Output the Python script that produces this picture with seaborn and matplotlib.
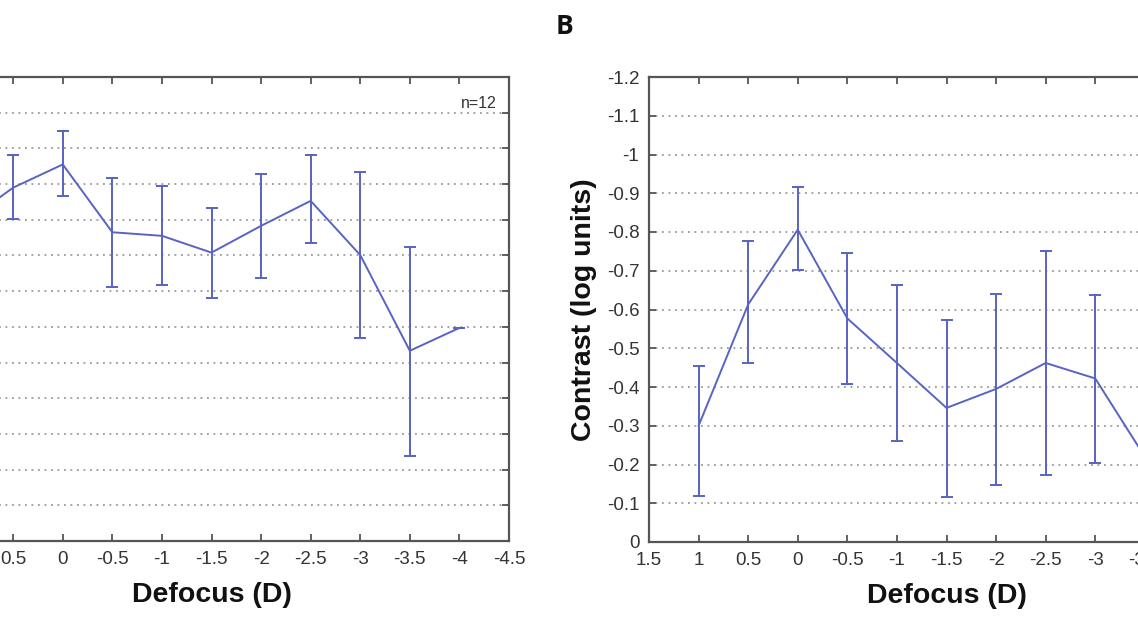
import matplotlib
matplotlib.use("Agg")
import matplotlib.pyplot as plt
import seaborn as sns
import numpy as np
import pandas as pd

# ---------------- data ----------------
defocus = [1, 0.5, 0, -0.5, -1, -1.5, -2, -2.5, -3, -3.5, -4]

# Panel A (left, partially visible)
a_mean = [-0.89, -0.99, -1.055, -0.865, -0.855, -0.808, -0.883, -0.953, -0.801, -0.533, -0.597]
a_top = [-0.98, -1.081, -1.148, -1.017, -0.994, -0.932, -1.027, -1.081, -1.033, -0.824, -0.597]
a_bot = [-0.80, -0.902, -0.967, -0.712, -0.718, -0.682, -0.736, -0.834, -0.568, -0.238, -0.597]

# Panel B (right)
b_mean = [-0.30, -0.613, -0.806, -0.577, -0.462, -0.346, -0.395, -0.462, -0.422, -0.22, -0.25]
b_top = [-0.454, -0.778, -0.916, -0.746, -0.662, -0.574, -0.641, -0.750, -0.638, -0.40, -0.40]
b_bot = [-0.119, -0.462, -0.701, -0.409, -0.260, -0.117, -0.148, -0.173, -0.205, -0.05, -0.10]

x_ticks = [1.5, 1, 0.5, 0, -0.5, -1, -1.5, -2, -2.5, -3, -3.5, -4, -4.5]
x_ticklabels = ["1.5", "1", "0.5", "0", "-0.5", "-1", "-1.5", "-2", "-2.5", "-3", "-3.5", "-4", "-4.5"]
b_yticks = [0, -0.1, -0.2, -0.3, -0.4, -0.5, -0.6, -0.7, -0.8, -0.9, -1.0, -1.1, -1.2]
b_yticklabels = ["0", "-0.1", "-0.2", "-0.3", "-0.4", "-0.5", "-0.6", "-0.7", "-0.8", "-0.9", "-1", "-1.1", "-1.2"]
# panel A's y tick labels lie outside the visible crop
a_yticks = [0, -0.1, -0.2, -0.3, -0.4, -0.5, -0.6, -0.7, -0.8, -0.9, -1.0, -1.1, -1.2, -1.3]
a_yticklabels = [""] * len(a_yticks)

x_label = "Defocus (D)"
y_label = "Contrast (log units)"
panel_label = "B"
n_text = "n=12"

# ---------------- style ----------------
sns.set_style("white")
plt.rcParams["font.family"] = ["Liberation Sans", "DejaVu Sans"]

LINE = "#5863c3"
SPINE = "#555555"
TXT = "#333333"

fig = plt.figure(figsize=(11.38, 6.40), dpi=100)
axA = fig.add_axes([-86 / 1138, 99 / 640, 595 / 1138, 464 / 640])
axB = fig.add_axes([649 / 1138, 98 / 640, 595 / 1138, 465 / 640])


def draw(ax, mean, top, bot, ylim, yticks, yticklabels):
    df = pd.DataFrame({"x": defocus, "y": mean})
    sns.lineplot(data=df, x="x", y="y", ax=ax, color=LINE, lw=1.4,
                 estimator=None, sort=False, legend=False)
    m = np.array(mean)
    yerr = np.vstack([np.abs(np.array(top) - m), np.abs(np.array(bot) - m)])
    ax.errorbar(defocus, mean, yerr=yerr, fmt="none", ecolor=LINE,
                elinewidth=1.4, capsize=4, capthick=1.4)
    ax.set_xlim(1.5, -4.5)
    ax.set_ylim(*ylim)
    ax.set_xticks(x_ticks)
    ax.set_xticklabels(x_ticklabels)
    ax.set_yticks(yticks)
    ax.set_yticklabels(yticklabels)
    ax.yaxis.grid(True, linestyle=(0, (1, 2.6)), color="#999999", lw=1.3)
    ax.xaxis.grid(False)
    ax.tick_params(axis="both", direction="in", length=5, width=1.3,
                   color=SPINE, labelsize=13.5, labelcolor=TXT,
                   top=True, right=True, bottom=True, left=True, pad=7)
    for s in ax.spines.values():
        s.set_visible(True)
        s.set_color(SPINE)
        s.set_linewidth(1.6)
    ax.set_xlabel(x_label, fontsize=20.5, fontweight="bold", color="#111111", labelpad=10)
    ax.set_ylabel("")


draw(axA, a_mean, a_top, a_bot, (0, -1.3), a_yticks, a_yticklabels)
draw(axB, b_mean, b_top, b_bot, (0, -1.2), b_yticks, b_yticklabels)
axB.set_ylabel(y_label, fontsize=20.5, fontweight="bold", color="#111111", labelpad=7)

axA.text(0.98, 0.942, n_text, transform=axA.transAxes, ha="right", va="center",
         fontsize=11.5, color=TXT)

fig.text(565 / 1138, 1 - 27 / 640, panel_label, ha="center", va="center",
         fontsize=19, fontweight="bold", color="#111111",
         family=["Open Sans", "DejaVu Sans"])

fig.savefig("out.png", dpi=100)
